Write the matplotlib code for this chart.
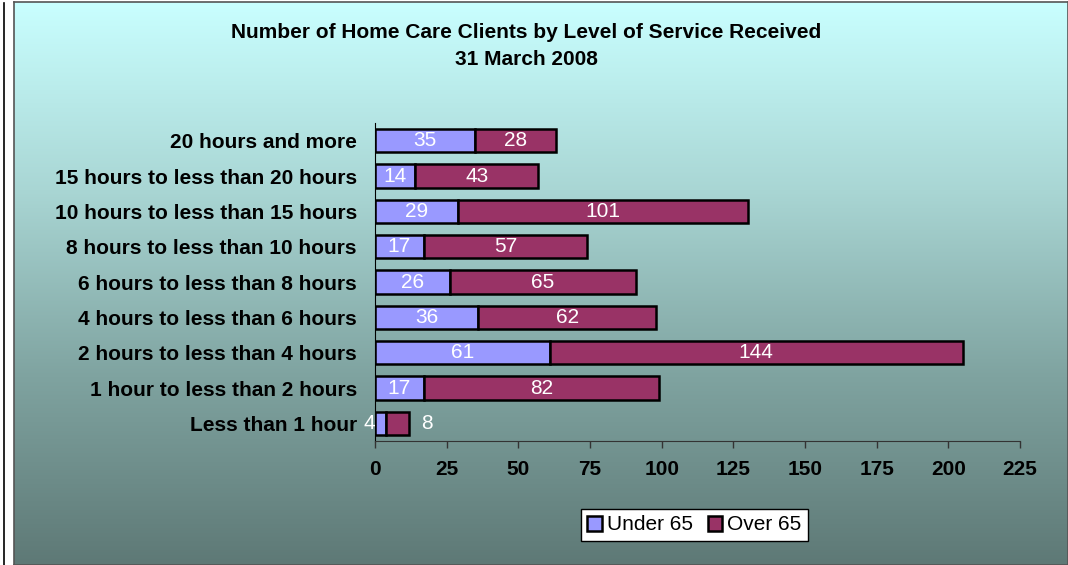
import matplotlib.pyplot as plt
import numpy as np
from matplotlib.colors import LinearSegmentedColormap

plt.rcParams['font.family'] = ['Liberation Sans', 'DejaVu Sans']

# data (bottom to top)
categories = ['Less than 1 hour', '1 hour to less than 2 hours', '2 hours to less than 4 hours',
              '4 hours to less than 6 hours', '6 hours to less than 8 hours',
              '8 hours to less than 10 hours', '10 hours to less than 15 hours',
              '15 hours to less than 20 hours', '20 hours and more']
under_65 = [4, 17, 61, 36, 26, 17, 29, 14, 35]
over_65 = [8, 82, 144, 62, 65, 57, 101, 43, 28]
xticks = [0, 25, 50, 75, 100, 125, 150, 175, 200, 225]

W, H = 1068, 565
fig = plt.figure(figsize=(W / 100, H / 100), dpi=100)
fig.patch.set_facecolor('white')

# background gradient panel
bg = fig.add_axes([14 / W, 0, 1 - 14 / W, 1 - 2 / H])
cmap = LinearSegmentedColormap.from_list('bg', ['#C9FFFF', '#A9D6D4', '#7FA3A0', '#5E7976'])
grad = np.linspace(0, 1, 256).reshape(-1, 1)
bg.imshow(grad, aspect='auto', cmap=cmap, extent=[0, 1, 0, 1], origin='upper')
bg.set_xticks([])
bg.set_yticks([])
for s in bg.spines.values():
    s.set_color('#555555')
    s.set_linewidth(1.2)
bg.set_zorder(0)

# thin line at far left
fig.add_artist(plt.Line2D([3.5 / W, 3.5 / W], [0, 1 - 3 / H], color='black', lw=1.2))

ax = fig.add_axes([375 / W, 1 - 441 / H, (1020 - 375) / W, (441 - 123) / H])
ax.set_zorder(1)
ax.patch.set_alpha(0)

fs = 15
y = np.arange(len(categories))
ax.barh(y, under_65, height=0.66, color='#9999FF', edgecolor='black', linewidth=1.8)
ax.barh(y, over_65, left=under_65, height=0.66, color='#993366', edgecolor='black', linewidth=1.8)

for i in range(len(categories)):
    u, o = under_65[i], over_65[i]
    if i == 0:
        # tiny bars: Excel pushes these labels aside
        ax.annotate(str(u), (u / 2, i), xytext=(-11, 0), textcoords='offset pixels',
                    ha='center', va='center', color='white', fontsize=fs)
        ax.annotate(str(o), (u + o / 2, i), xytext=(29, 0), textcoords='offset pixels',
                    ha='center', va='center', color='white', fontsize=fs)
    else:
        ax.text(u / 2, i, str(u), ha='center', va='center', color='white', fontsize=fs)
        ax.text(u + o / 2, i, str(o), ha='center', va='center', color='white', fontsize=fs)

ax.set_xlim(0, 225)
ax.set_ylim(-0.5, len(categories) - 0.5)
ax.set_xticks(xticks)
ax.set_yticks(y)
ax.set_yticklabels(categories, fontweight='bold', fontsize=fs)
ax.tick_params(axis='y', length=0, pad=13)
ax.tick_params(axis='x', length=5, width=1, color='#333333', pad=9, labelsize=fs)
for lab in ax.get_xticklabels():
    lab.set_fontweight('bold')
ax.spines['top'].set_visible(False)
ax.spines['right'].set_visible(False)
ax.spines['left'].set_color('black')
ax.spines['bottom'].set_color('#333333')

fig.text(526 / W, 1 - 32 / H, 'Number of Home Care Clients by Level of Service Received',
         ha='center', va='center', fontweight='bold', fontsize=fs)
fig.text(526 / W, 1 - 60 / H, '31 March 2008',
         ha='center', va='center', fontweight='bold', fontsize=fs)

leg = ax.legend(['Under 65', 'Over 65'], loc='center', bbox_to_anchor=(694.5 / W, 1 - 525 / H),
                bbox_transform=fig.transFigure, ncol=2, frameon=True, fancybox=False,
                framealpha=1, fontsize=fs, handlelength=0.7, handleheight=0.7,
                handletextpad=0.25, columnspacing=0.7, borderpad=0.3)
leg.get_frame().set_edgecolor('black')
leg.get_frame().set_facecolor('white')
leg.get_frame().set_linewidth(1)

fig.savefig('out.png', dpi=100)
